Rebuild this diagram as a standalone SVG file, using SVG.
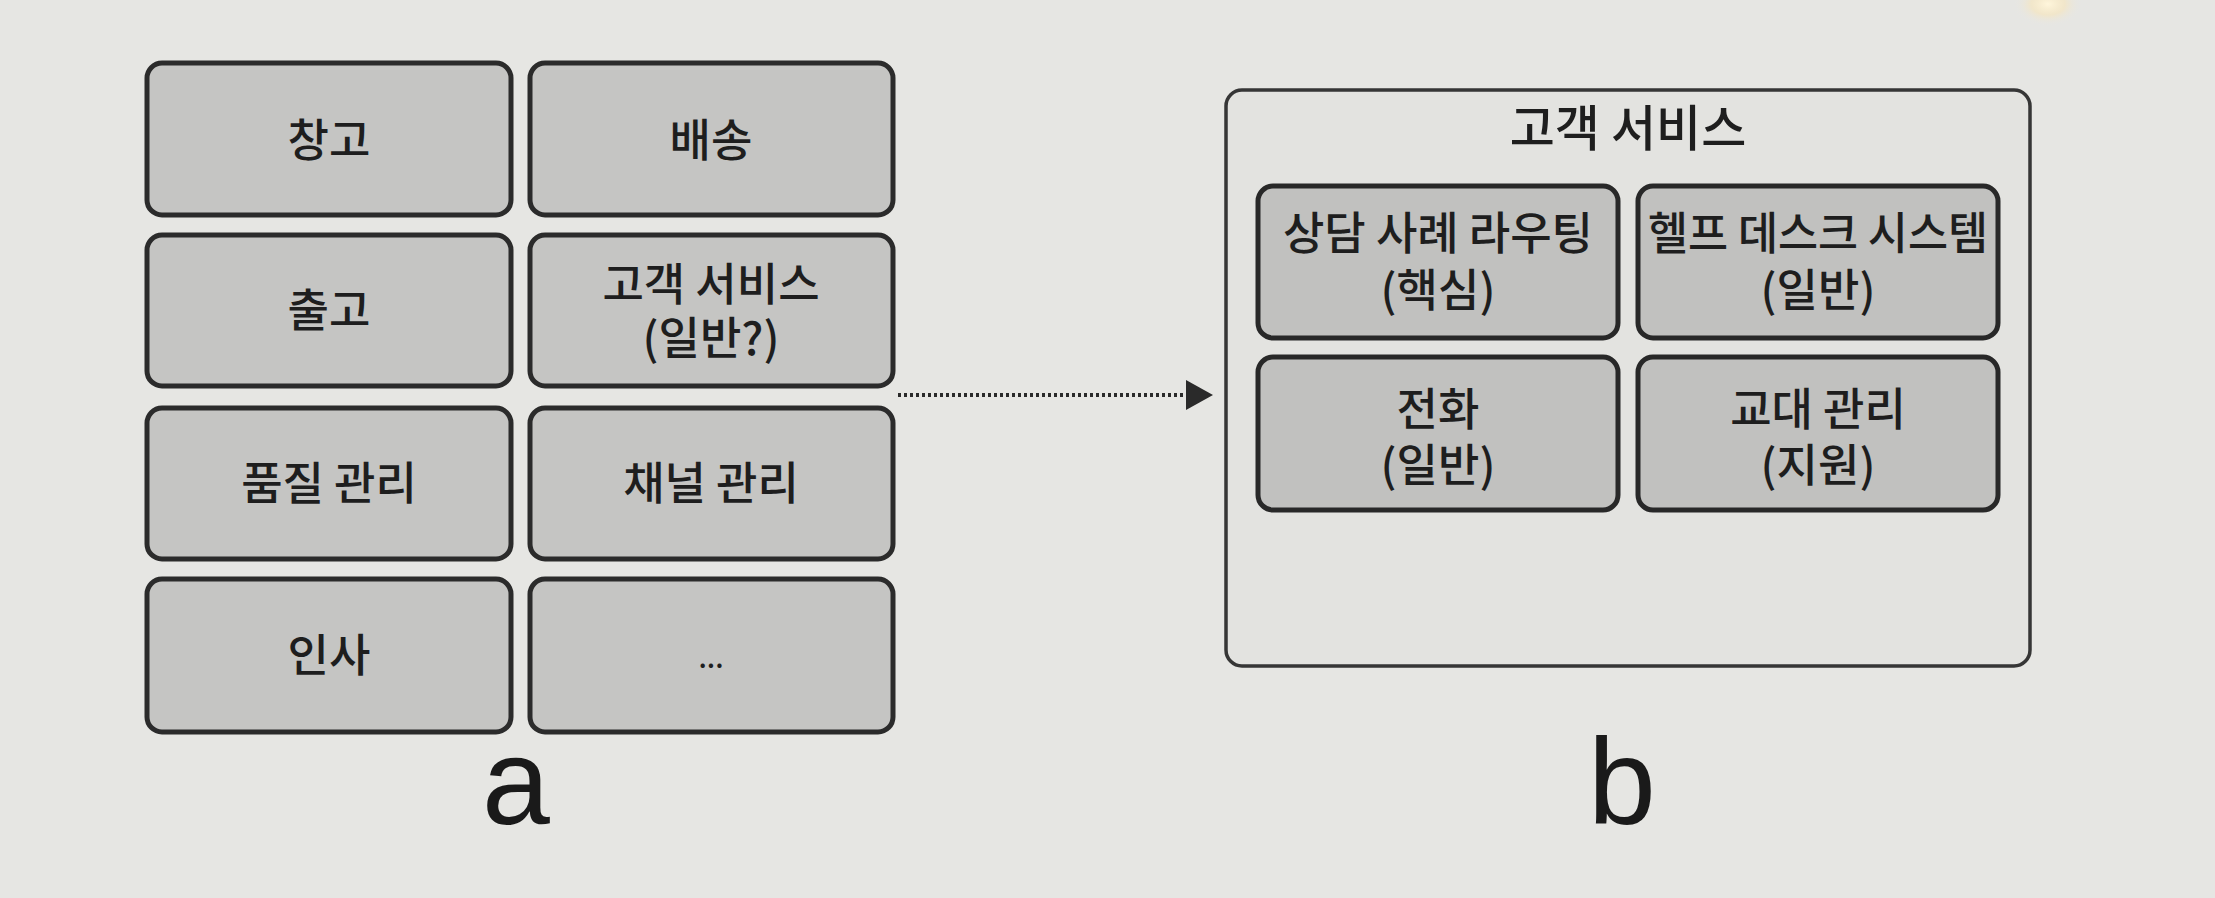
<svg xmlns="http://www.w3.org/2000/svg" width="2215" height="898" viewBox="0 0 2215 898">
  <defs>
    <style>
      .box { fill: #c5c5c3; stroke: #2b2b2b; stroke-width: 5; }
      .ibox { fill: #c1c1bf; stroke: #282828; stroke-width: 5; }
      .cont { fill: #e3e3e0; stroke: #363636; stroke-width: 3.5; }
      .t { font-family: "Noto Sans CJK KR", "Noto Sans", sans-serif; font-size: 45px; font-weight: 500; fill: #1e1e1e; text-anchor: middle; }
      .title { font-family: "Noto Sans CJK KR", "Noto Sans", sans-serif; font-size: 49px; font-weight: 500; fill: #1e1e1e; text-anchor: middle; }
      .lbl { font-family: "Liberation Sans", Arial, sans-serif; font-size: 122px; fill: #1a1a1a; text-anchor: middle; }
      .conn { fill: none; stroke: #2a2a2a; stroke-width: 4; stroke-dasharray: 3 3; }
    </style>
    <radialGradient id="glare" cx="0.5" cy="0.5" r="0.5">
      <stop offset="0" stop-color="#fff6dc" stop-opacity="1"/>
      <stop offset="0.5" stop-color="#f6e6c0" stop-opacity="0.7"/>
      <stop offset="1" stop-color="#e8e8e5" stop-opacity="0"/>
    </radialGradient>
  </defs>

  <rect x="0" y="0" width="2215" height="898" fill="#e6e6e3"/>
  <ellipse cx="2048" cy="4" rx="34" ry="22" fill="url(#glare)"/>

  <!-- Panel a -->
  <g id="node-warehouse">
    <rect class="box" x="147" y="63" width="364" height="152" rx="15"/>
    <text class="t" x="329" y="157">창고</text>
  </g>
  <g id="node-shipping">
    <rect class="box" x="530" y="63" width="363" height="152" rx="15"/>
    <text class="t" x="711" y="157">배송</text>
  </g>
  <g id="node-outbound">
    <rect class="box" x="147" y="235" width="364" height="151" rx="15"/>
    <text class="t" x="329" y="327">출고</text>
  </g>
  <g id="node-customer-service">
    <rect class="box" x="530" y="235" width="363" height="151" rx="15"/>
    <text class="t" x="711" y="301">고객 서비스<tspan x="711" dy="54">(일반?)</tspan></text>
  </g>
  <g id="node-quality">
    <rect class="box" x="147" y="408" width="364" height="151" rx="15"/>
    <text class="t" x="329" y="500">품질 관리</text>
  </g>
  <g id="node-channel">
    <rect class="box" x="530" y="408" width="363" height="151" rx="15"/>
    <text class="t" x="711" y="500">채널 관리</text>
  </g>
  <g id="node-hr">
    <rect class="box" x="147" y="579" width="364" height="153" rx="15"/>
    <text class="t" x="329" y="672">인사</text>
  </g>
  <g id="node-etc">
    <rect class="box" x="530" y="579" width="363" height="153" rx="15"/>
    <text class="t" x="711" y="668" style="font-size:28px">...</text>
  </g>

  <!-- Panel b -->
  <g id="node-cs-container">
    <rect class="cont" x="1226" y="90" width="804" height="576" rx="16"/>
    <text class="title" x="1628" y="146">고객 서비스</text>
  </g>
  <g id="node-case-routing">
    <rect class="ibox" x="1258" y="186" width="360" height="152" rx="15"/>
    <text class="t" x="1438" y="250">상담 사례 라우팅<tspan x="1438" dy="57">(핵심)</tspan></text>
  </g>
  <g id="node-helpdesk">
    <rect class="ibox" x="1638" y="186" width="360" height="152" rx="15"/>
    <text class="t" x="1818" y="250" textLength="340" lengthAdjust="spacingAndGlyphs">헬프 데스크 시스템</text>
    <text class="t" x="1818" y="307">(일반)</text>
  </g>
  <g id="node-phone">
    <rect class="ibox" x="1258" y="357" width="360" height="153" rx="15"/>
    <text class="t" x="1438" y="426">전화<tspan x="1438" dy="56">(일반)</tspan></text>
  </g>
  <g id="node-shift">
    <rect class="ibox" x="1638" y="357" width="360" height="153" rx="15"/>
    <text class="t" x="1818" y="426">교대 관리<tspan x="1818" dy="56">(지원)</tspan></text>
  </g>

  <!-- Connectors -->
  <g id="connectors">
    <line class="conn" x1="898" y1="395" x2="1186" y2="395"/>
    <path d="M1186,380 L1213,395 L1186,410 z" fill="#2a2a2a"/>
  </g>

  <!-- Labels -->
  <g id="labels">
    <text class="lbl" x="516" y="824">a</text>
    <text class="lbl" x="1622" y="824">b</text>
  </g>
</svg>
